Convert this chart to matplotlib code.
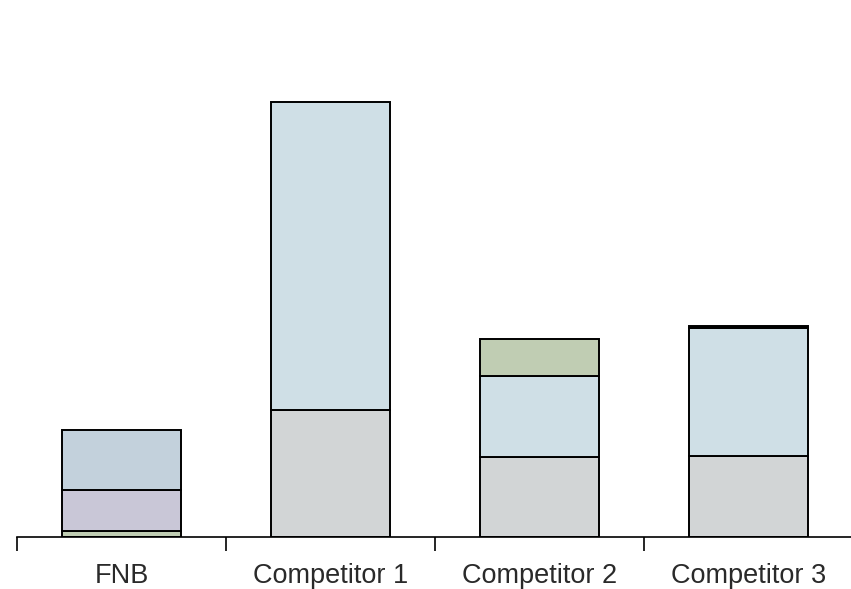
import matplotlib.pyplot as plt
import numpy as np

# categories and stacked segment values, bottom to top
categories = ["FNB", "Competitor 1", "Competitor 2", "Competitor 3"]
bottom_vals = [0.6, 12.7, 8.0, 8.1]
middle_vals = [4.1, 30.8, 8.1, 12.8]
top_vals = [6.0, 0.0, 3.7, 0.2]

# segment colours per bar
bottom_cols = ["#c0cdb3", "#d2d5d6", "#d2d5d6", "#d2d5d6"]
middle_cols = ["#c9c7d7", "#cfdfe6", "#cfdfe6", "#cfdfe6"]
top_cols = ["#c3d1dc", "#cfdfe6", "#c0cdb3", "#222222"]

fig = plt.figure(figsize=(8.51, 5.89), dpi=100)
ax = fig.add_axes([0.02, 0.0883, 0.98, 0.9117])

x = np.arange(len(categories))
w = 0.57
base = np.zeros(len(categories))
for vals, cols in [(bottom_vals, bottom_cols), (middle_vals, middle_cols), (top_vals, top_cols)]:
    vals = np.array(vals)
    for i in range(len(categories)):
        if vals[i] > 0:
            ax.bar(x[i], vals[i], w, bottom=base[i], color=cols[i],
                   edgecolor="black", linewidth=1.4)
    base += vals

ax.set_xlim(-0.5, 3.49)
ax.set_ylim(0, 53.7)
for s in ["top", "right", "left"]:
    ax.spines[s].set_visible(False)
ax.spines["bottom"].set_linewidth(1.2)
ax.set_yticks([])
ax.set_xticks([-0.5, 0.5, 1.5, 2.5])
ax.set_xticklabels([])
ax.set_xticks(x, minor=True)
ax.set_xticklabels(categories, minor=True, fontsize=19.5,
                   family="Liberation Sans", color="#2a2a2a")
ax.tick_params(axis="x", which="major", direction="out", length=10, width=1.2)
ax.tick_params(axis="x", which="minor", length=0, pad=19)

fig.savefig("out.png", dpi=100)
